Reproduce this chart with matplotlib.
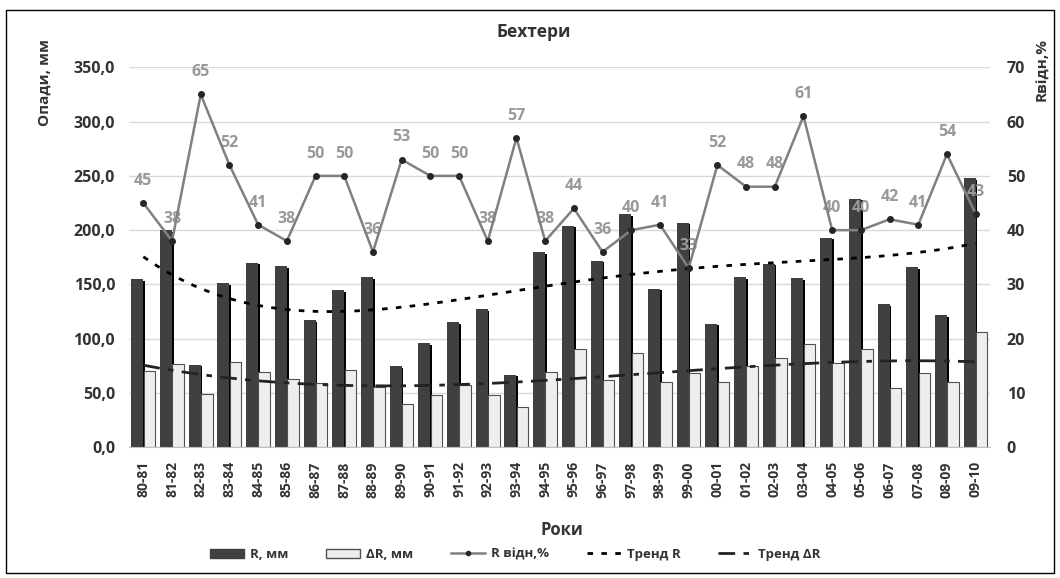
import matplotlib
matplotlib.use("Agg")
import matplotlib.pyplot as plt
import matplotlib.patheffects as pe
from matplotlib.lines import Line2D
from matplotlib.patches import Patch, Rectangle
import numpy as np

plt.rcParams['font.family'] = ['Open Sans', 'DejaVu Sans']

years = ['80-81', '81-82', '82-83', '83-84', '84-85', '85-86', '86-87', '87-88', '88-89', '89-90',
         '90-91', '91-92', '92-93', '93-94', '94-95', '95-96', '96-97', '97-98', '98-99', '99-00',
         '00-01', '01-02', '02-03', '03-04', '04-05', '05-06', '06-07', '07-08', '08-09', '09-10']
# опади за рік, мм
r_mm = [155, 200, 76, 151, 170, 167, 117, 145, 157, 75,
        96, 115, 127, 67, 180, 204, 172, 215, 146, 207,
        114, 157, 169, 156, 193, 229, 132, 166, 122, 248]
# відхилення, мм
dr_mm = [70, 77, 49, 79, 69, 63, 59, 71, 56, 40,
         48, 57, 48, 37, 69, 91, 62, 87, 60, 68,
         60, 75, 82, 95, 78, 91, 55, 68, 60, 106]
# відносне відхилення, %
r_pct = [45, 38, 65, 52, 41, 38, 50, 50, 36, 53,
         50, 50, 38, 57, 38, 44, 36, 40, 41, 33,
         52, 48, 48, 61, 40, 40, 42, 41, 54, 43]

x = np.arange(len(years))
txt = '#333333'

fig = plt.figure(figsize=(10.6, 5.78), dpi=100)
ax = fig.add_axes([0.1217, 0.2261, 0.8123, 0.6575])
ax2 = ax.twinx()

w = 0.42
bars_r = ax.bar(x - 0.21, r_mm, w, color='#404040', zorder=2)
for b in bars_r:
    b.set_path_effects([pe.SimplePatchShadow(offset=(1.2, -1.2), shadow_rgbFace='black', alpha=1.0),
                        pe.Normal()])
ax.bar(x + 0.21, dr_mm, w - 0.02, color='#eeeeee', edgecolor='#505050', linewidth=0.8, zorder=2)

# поліноміальні тренди
xs = np.linspace(0, len(x) - 1, 200)
trend_r = np.polyval(np.polyfit(x, r_mm, 4), xs)
trend_dr = np.polyval(np.polyfit(x, dr_mm, 3), xs)
ax.plot(xs, trend_r, color='black', linestyle=(0, (2, 3)), linewidth=2, zorder=4)
ax.plot(xs, trend_dr, color='#222222', linestyle=(0, (6, 3, 2, 3)), linewidth=2, zorder=4)

ax.set_xlim(-0.5, len(x) - 0.5)
ax.set_ylim(0, 350)
ax.set_yticks(np.arange(0, 351, 50))
ax.set_yticklabels([f'{v:.1f}'.replace('.', ',') for v in np.arange(0, 351, 50)],
                   fontsize=11.5, fontweight='bold', color=txt)
ax.set_xticks(x)
ax.set_xticklabels(years, rotation=90, fontsize=10, fontweight='bold', color=txt)
ax.tick_params(axis='both', length=0, pad=10)
ax.grid(axis='y', color='#d9d9d9', linewidth=1, zorder=0)
ax.set_axisbelow(True)
for s in ['top', 'left', 'right']:
    ax.spines[s].set_visible(False)
ax.spines['bottom'].set_color('#bfbfbf')

ax2.set_ylim(0, 70)
ax2.set_yticks(np.arange(0, 71, 10))
ax2.set_yticklabels([str(v) for v in range(0, 71, 10)], fontsize=11.5, fontweight='bold', color=txt)
ax2.tick_params(axis='y', length=0, pad=12)
for s in ax2.spines.values():
    s.set_visible(False)

ax2.plot(x, r_pct, color='#808080', linewidth=1.8, marker='o', markersize=4,
         markerfacecolor='#262626', markeredgecolor='#262626', zorder=5)
for xi, v in zip(x, r_pct):
    ax2.annotate(str(v), (xi, v), xytext=(0, 16), textcoords='offset points',
                 ha='center', va='center', fontsize=11.5, fontweight='bold', color='#999999')

fig.text(0.504, 0.945, 'Бехтери', ha='center', va='center', fontsize=12.5, fontweight='bold', color=txt)
fig.text(0.530, 0.083, 'Роки', ha='center', va='center', fontsize=12, fontweight='bold', color=txt)
fig.text(0.0425, 0.858, 'Опади, мм', rotation=90, ha='center', va='center',
         fontsize=11, fontweight='bold', color=txt)
fig.text(0.983, 0.879, 'Rвідн,%', rotation=90, ha='center', va='center',
         fontsize=11, fontweight='bold', color=txt)

handles = [
    Patch(facecolor='#404040', edgecolor='#404040'),
    Patch(facecolor='#eeeeee', edgecolor='#505050'),
    Line2D([], [], color='#808080', linewidth=1.8, marker='o', markersize=3,
           markerfacecolor='#262626', markeredgecolor='#262626'),
    Line2D([], [], color='black', linestyle=(0, (2, 3)), linewidth=2),
    Line2D([], [], color='#222222', linestyle=(0, (6, 3, 2, 3)), linewidth=2),
]
labels = ['R, мм', 'ΔR, мм', 'R відн,%', 'Тренд R', 'Тренд ΔR']
leg = fig.legend(handles, labels, loc='center', bbox_to_anchor=(0.486, 0.041), ncol=5,
                 frameon=False, fontsize=9.5, handlelength=2.6, columnspacing=2.9, handletextpad=0.4)
for t in leg.get_texts():
    t.set_fontweight('bold')
    t.set_color(txt)

fig.patches.append(Rectangle((0.006, 0.009), 0.988, 0.974, transform=fig.transFigure,
                             fill=False, edgecolor='black', linewidth=1))

fig.savefig('out.png', dpi=100)
